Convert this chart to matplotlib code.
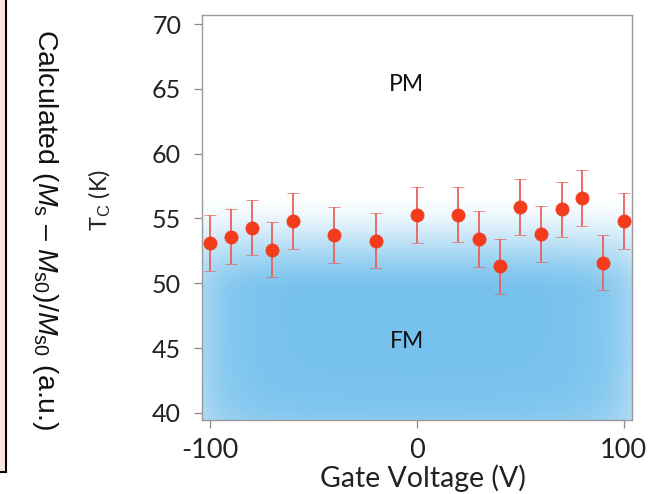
import numpy as np
import matplotlib
matplotlib.use("Agg")
import matplotlib.pyplot as plt
from matplotlib.patches import Rectangle

# ---- data ----
gate_voltage = [-100, -90, -80, -70, -60, -40, -20, 0, 20, 30, 40, 50, 60, 70, 80, 90, 100]
tc_values = [53.1, 53.6, 54.3, 52.6, 54.8, 53.7, 53.3, 55.25, 55.3, 53.4, 51.3, 55.9, 53.8, 55.7, 56.6, 51.6, 54.8]
tc_errors = [2.15] * len(gate_voltage)
x_ticks = [-100, 0, 100]
y_ticks = [40, 45, 50, 55, 60, 65, 70]
phase_labels = ["PM", "FM"]

plt.rcParams['mathtext.fontset'] = 'custom'
plt.rcParams['mathtext.rm'] = 'Liberation Sans'
plt.rcParams['mathtext.it'] = 'Liberation Sans:italic'

fig = plt.figure(figsize=(6.57, 4.94), dpi=100)
ax = fig.add_axes([202/657, 1-420/494, (632-202)/657, (420-15)/494])

xlim = (-104, 104)
ylim = (39.45, 70.7)
ax.set_xlim(*xlim)
ax.set_ylim(*ylim)

# blue FM shaded gradient
ny, nx = 400, 300
ys = np.linspace(ylim[0], ylim[1], ny)
xs = np.linspace(xlim[0], xlim[1], nx)
X, Y = np.meshgrid(xs, ys)
t = np.clip((57.0 - Y) / 8.0, 0, 1)
vert = t * t * (3 - 2 * t)
fx = (X - xlim[0]) / (xlim[1] - xlim[0])
horiz = 1 - 0.35 * np.exp(-fx / 0.06) - 0.35 * np.exp(-(1 - fx) / 0.06)
fy = (Y - ylim[0]) / (ylim[1] - ylim[0])
bot = 1 - 0.15 * np.exp(-fy / 0.05)
alpha = np.clip(vert * horiz * bot, 0, 1)
rgba = np.zeros((ny, nx, 4))
base = np.array([0.46, 0.76, 0.93])
rgba[..., :3] = base
rgba[..., 3] = alpha
ax.imshow(rgba, extent=[xlim[0], xlim[1], ylim[0], ylim[1]], origin='lower',
          aspect='auto', zorder=0, interpolation='bilinear')

ax.errorbar(gate_voltage, tc_values, yerr=tc_errors, fmt='o', color='#f23c1c',
            ecolor='#e8625a', elinewidth=1.3, capsize=4, capthick=1.3,
            markersize=9.5, markeredgecolor='#f23c1c', markeredgewidth=0.5,
            zorder=3, clip_on=False)

ax.text(-5, 65.3, phase_labels[0], fontsize=16.5, family='Lato', ha='center', va='center', color='#111111')
ax.text(-5, 45.5, phase_labels[1], fontsize=16.5, family='Lato', ha='center', va='center', color='#111111')

ax.set_xticks(x_ticks)
ax.set_yticks(y_ticks)
ax.set_xticklabels([str(t) for t in x_ticks], family='Lato', fontsize=19.5, color='#222222')
ax.set_yticklabels([str(t) for t in y_ticks], family='Lato', fontsize=18, color='#222222')
ax.tick_params(direction='out', length=6, width=0.9, color='#888888')
ax.tick_params(axis='x', pad=7)
ax.tick_params(axis='y', pad=9)
for s in ax.spines.values():
    s.set_color('#999999')
    s.set_linewidth(1.0)

fig.text(423/657, 1-487/494, 'Gate Voltage (V)', family='Lato', fontsize=20.5,
         ha='center', va='baseline', color='#222222')
fig.text(100/657, 1-200/494, r'T$_\mathrm{C}$ (K)', family='Lato', fontsize=17,
         rotation=90, ha='center', va='center', color='#222222')
fig.text(45/657, 1-230/494, r'Calculated ($M_\mathrm{s}$ – $M_\mathrm{s0}$)/$M_\mathrm{s0}$ (a.u.)',
         family='Liberation Sans', fontsize=20.5, rotation=-90, ha='center', va='center',
         color='#111111')

fig.patches.append(Rectangle((-0.02, 1-472/494), 0.02 + 6/657, 1.2, transform=fig.transFigure,
                             facecolor='#fbe4e4', edgecolor='black', linewidth=1.5))

fig.savefig('out.png', dpi=100)
